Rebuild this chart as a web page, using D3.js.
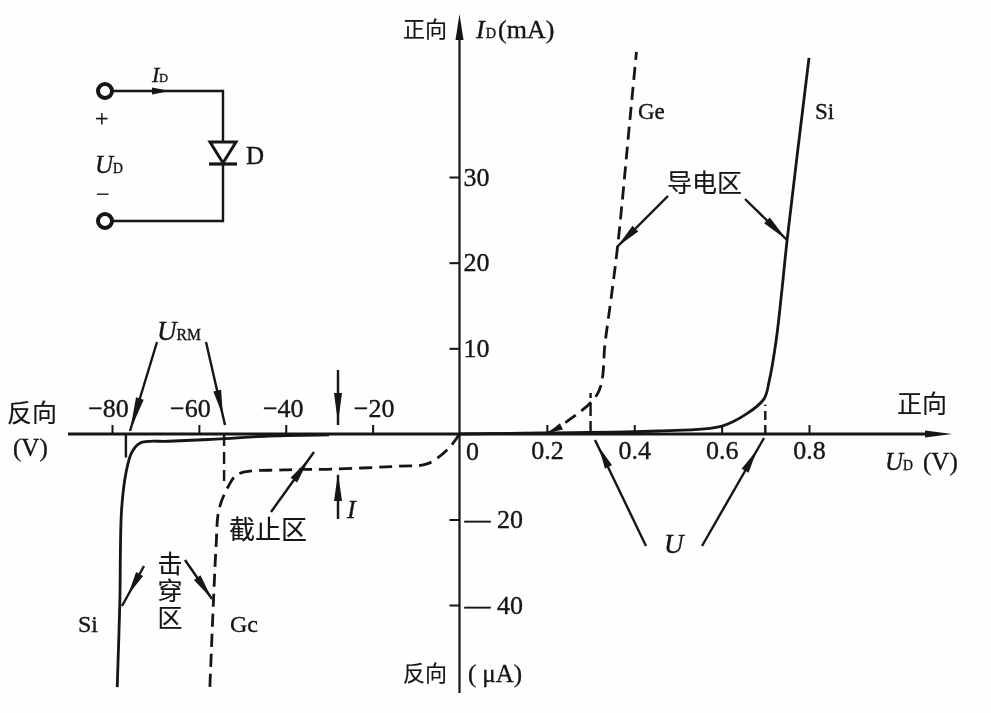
<!DOCTYPE html>
<html>
<head>
<meta charset="utf-8">
<script src="https://cdn.jsdelivr.net/npm/d3@7"></script>
<style>
  html, body { margin: 0; padding: 0; background: #fff; }
  svg { display: block; }
  text { font-family: "Liberation Serif", "Noto Sans CJK SC", serif; fill: #141414; stroke: #141414; stroke-width: 0.35; }
  .cjk { font-family: "Noto Sans CJK SC", sans-serif; stroke-width: 0.15; }
</style>
</head>
<body>
<div id="chart"></div>
<script>
// tick labels
const reverseVoltTicks = [-80, -60, -40, -20];
const forwardVoltTicks = [0.2, 0.4, 0.6, 0.8];
const forwardCurrentTicks = [10, 20, 30];
const reverseCurrentTicks = [20, 40];

// forward curves: V, mA
const siForwardV = [0, 0.185, 0.453, 0.601, 0.657, 0.697, 0.709, 0.725, 0.738, 0.75, 0.8];
const siForwardI = [0, 0.12, 0.35, 0.93, 2.34, 4.1, 6.2, 11, 16.8, 22.7, 43.9];
const geForwardV = [0.203, 0.247, 0.317, 0.334, 0.361, 0.389, 0.405];
const geForwardI = [0.1, 1.5, 4.8, 11, 21.5, 36.1, 44.6];

// reverse curves: V, uA
const siReverseV = [-30, -44, -56, -67, -73.5, -75.5, -76.8, -77.8, -78.2, -78.8];
const siReverseI = [0.2, 0.5, 1.2, 1.7, 2.1, 4.4, 9.2, 17.8, 39.5, 59.2];
const geReverseV = [0, -2.8, -7.5, -13.7, -29, -40.5, -51, -53.3, -55.4, -56, -56.6, -57.5];
const geReverseI = [0, 3.7, 7, 7.5, 8.2, 8.4, 9.4, 12.4, 17.8, 25.5, 38.1, 60];

// threshold and breakdown voltages
const geThreshold = 0.3;
const siThreshold = 0.7;
const geBreakdown = -54.2;
const siBreakdown = -76.8;

const width = 991, height = 713;
const originX = 459.5, originY = 434;

const svg = d3.select('#chart').append('svg')
  .attr('width', width)
  .attr('height', height)
  .attr('viewBox', `0 0 ${width} ${height}`);

// the source is a slightly soft scan
svg.append('filter').attr('id', 'soft')
  .append('feGaussianBlur').attr('stdDeviation', 0.55);

svg.append('rect').attr('width', width).attr('height', height).attr('fill', '#fefefe');

const g = svg.append('g').attr('filter', 'url(#soft)');

const xRev = d3.scaleLinear().domain([-80, 0]).range([112, originX]);
const xFwd = d3.scaleLinear().domain([0, 0.8]).range([originX, 809]);
const yFwd = d3.scaleLinear().domain([0, 30]).range([originY, 177]);
const yRev = d3.scaleLinear().domain([0, 40]).range([originY, 605]);

const ink = '#141414';

// main axis lines
g.append('line').attr('x1', 68).attr('x2', 935).attr('y1', originY).attr('y2', originY)
  .attr('stroke', ink).attr('stroke-width', 2.8);
g.append('line').attr('x1', originX).attr('x2', originX).attr('y1', 30).attr('y2', 693)
  .attr('stroke', ink).attr('stroke-width', 2.2);

function head(x1, y1, x2, y2, len, w) {
  const a = Math.atan2(y2 - y1, x2 - x1);
  const bx = x2 - len * Math.cos(a), by = y2 - len * Math.sin(a);
  const nx = -Math.sin(a) * w / 2, ny = Math.cos(a) * w / 2;
  g.append('polygon')
    .attr('points', [[x2, y2], [bx + nx, by + ny], [bx - nx, by - ny]].join(' '))
    .attr('fill', ink);
}

head(925, originY, 952, originY, 27, 7);
head(originX, 40, originX, 14, 26, 8);

function styleAxis(sel) {
  sel.select('.domain').remove();
  sel.selectAll('.tick line').attr('stroke', ink).attr('stroke-width', 2);
  sel.selectAll('text').attr('font-family', null).attr('fill', ink).attr('font-size', 26);
}

// reverse voltage, labels above with the uneven offsets of the original
const labelShift = { '-80': -4, '-60': -9, '-40': -3, '-20': 1 };
g.append('g').attr('transform', `translate(0,${originY})`)
  .call(d3.axisTop(xRev).tickValues(reverseVoltTicks).tickSize(9).tickPadding(8)
    .tickFormat(d => '\u2212' + Math.abs(d)))
  .call(styleAxis)
  .call(s => s.selectAll('text').attr('dx', d => labelShift[d]));

// forward voltage, ticks up and labels below
g.append('g').attr('transform', `translate(0,${originY})`)
  .call(d3.axisBottom(xFwd).tickValues(forwardVoltTicks).tickSizeInner(-9).tickSizeOuter(0).tickPadding(7)
    .tickFormat(d3.format('.1f')))
  .call(styleAxis);

g.append('g').attr('transform', `translate(${originX},0)`)
  .call(d3.axisLeft(yFwd).tickValues(forwardCurrentTicks).tickSize(10).tickFormat(d => d))
  .call(styleAxis)
  .call(s => s.selectAll('text').attr('x', 4).attr('text-anchor', 'start'));

g.append('g').attr('transform', `translate(${originX},0)`)
  .call(d3.axisLeft(yRev).tickValues(reverseCurrentTicks).tickSize(10).tickFormat(d => '\u2014 ' + d))
  .call(styleAxis)
  .call(s => s.selectAll('text').attr('x', 5).attr('text-anchor', 'start'));

// curves
function curve(xs, ys, xScale, yScale, dashed) {
  const line = d3.line().x(d => xScale(d[0])).y(d => yScale(d[1])).curve(d3.curveCatmullRom.alpha(0.5));
  const path = g.append('path')
    .attr('d', line(d3.zip(xs, ys)))
    .attr('fill', 'none').attr('stroke', ink).attr('stroke-width', 2.8);
  if (dashed) path.attr('stroke-dasharray', '13 7');
}

curve(siForwardV, siForwardI, xFwd, yFwd, false);
curve(geForwardV, geForwardI, xFwd, yFwd, true);
curve(siReverseV, siReverseI, xRev, yRev, false);
curve(geReverseV, geReverseI, xRev, yRev, true);

// drop lines at threshold and breakdown
function guide(x, y1, y2, dash) {
  const l = g.append('line').attr('x1', x).attr('x2', x).attr('y1', y1).attr('y2', y2)
    .attr('stroke', ink).attr('stroke-width', 2.4);
  if (dash) l.attr('stroke-dasharray', dash);
}
guide(xFwd(geThreshold), originY, yFwd(4.8), '13 5');
guide(xFwd(siThreshold), originY, yFwd(3.4), '9 5');
guide(xRev(geBreakdown), originY, yRev(11), '12 6');
guide(xRev(siBreakdown), originY, yRev(5.5), null);

// annotation arrows: tail, shaft end, head tip
function arrow(x1, y1, x2, y2, tipX, tipY, len) {
  g.append('line').attr('x1', x1).attr('y1', y1).attr('x2', x2).attr('y2', y2)
    .attr('stroke', ink).attr('stroke-width', 2.4);
  head(x1, y1, tipX, tipY, len, 8);
}
arrow(157, 342, 130, 431, 130, 431, 34);
arrow(206, 342, 225, 425, 223, 416, 26);
arrow(338, 370, 338, 425, 338, 423, 30);
arrow(338, 519, 338, 475, 338, 473, 28);
arrow(271, 512, 314, 452, 309, 459, 26);
arrow(668, 196, 617, 247, 617, 247, 26);
arrow(745, 199, 787, 240, 787, 240, 28);
arrow(144, 566, 122, 606, 128, 595, 24);
arrow(185, 560, 212, 599, 212, 599, 26);
arrow(646, 546, 595, 440, 599, 447, 22);
arrow(702, 546, 764, 438, 757, 450, 24);
head(566, 424, 548, 433, 15, 7);

// circuit inset
g.selectAll('.term').data([91, 221]).enter().append('circle')
  .attr('cx', 105).attr('cy', d => d).attr('r', 7)
  .attr('fill', '#fff').attr('stroke', ink).attr('stroke-width', 4);
g.append('path').attr('d', 'M112,91H223V221H112').attr('fill', 'none').attr('stroke', ink).attr('stroke-width', 2.4);
g.append('polygon').attr('points', '210,142 236,142 223,163').attr('fill', '#fff').attr('stroke', ink).attr('stroke-width', 3);
g.append('line').attr('x1', 209).attr('x2', 237).attr('y1', 164).attr('y2', 164).attr('stroke', ink).attr('stroke-width', 3.2);
head(152, 91, 170, 91, 18, 7);

// labels: a run is [text, italic, sizeRatio, dx]
function label(x, y, size, runs, cls) {
  const t = g.append('text').attr('x', x).attr('y', y).attr('font-size', size);
  if (cls) t.attr('class', cls);
  runs.forEach(r => {
    t.append('tspan')
      .attr('font-style', r[1] ? 'italic' : null)
      .attr('font-size', r[2] ? size * r[2] : null)
      .attr('dx', r[3] || null)
      .text(r[0]);
  });
  return t;
}

label(403, 37, 22, [['正向']], 'cjk');
label(476, 38, 26, [['I', true], ['D', false, 0.55, 1], ['(mA)', false, 0, 2]]);
label(152, 82, 22, [['I', true], ['D', false, 0.55]]);
label(95, 126, 24, [['+']]);
label(95, 173, 25, [['U', true], ['D', false, 0.55]]);
label(96, 202, 24, [['\u2212']]);
label(246, 164, 25, [['D']]);
label(638, 119, 23, [['Ge']]);
label(815, 119, 23, [['Si']]);
label(667, 192, 25, [['导电区']], 'cjk');
label(157, 340, 27, [['U', true], ['RM', false, 0.58]]);
label(7, 422, 25, [['反向']], 'cjk');
label(13, 456, 25, [['(V)']]);
label(466, 460, 26, [['0']]);
label(897, 413, 25, [['正向']], 'cjk');
label(885, 470, 25, [['U', true], ['D', false, 0.55], ['(V)', false, 0, 10]]);
label(664, 553, 27, [['U', true]]);
label(347, 518, 26, [['I', true]]);
label(229, 539, 26, [['截止区']], 'cjk');
label(170, 551, 25, [['击穿区']], 'cjk')
  .style('writing-mode', 'vertical-rl')
  .style('letter-spacing', '2px');
label(78, 632, 24, [['Si']]);
label(230, 632, 24, [['Gc']]);
label(403, 681, 22, [['反向']], 'cjk');
label(468, 682, 25, [['(', false], ['μA)', false, 0, 6]]);
</script>
</body>
</html>
